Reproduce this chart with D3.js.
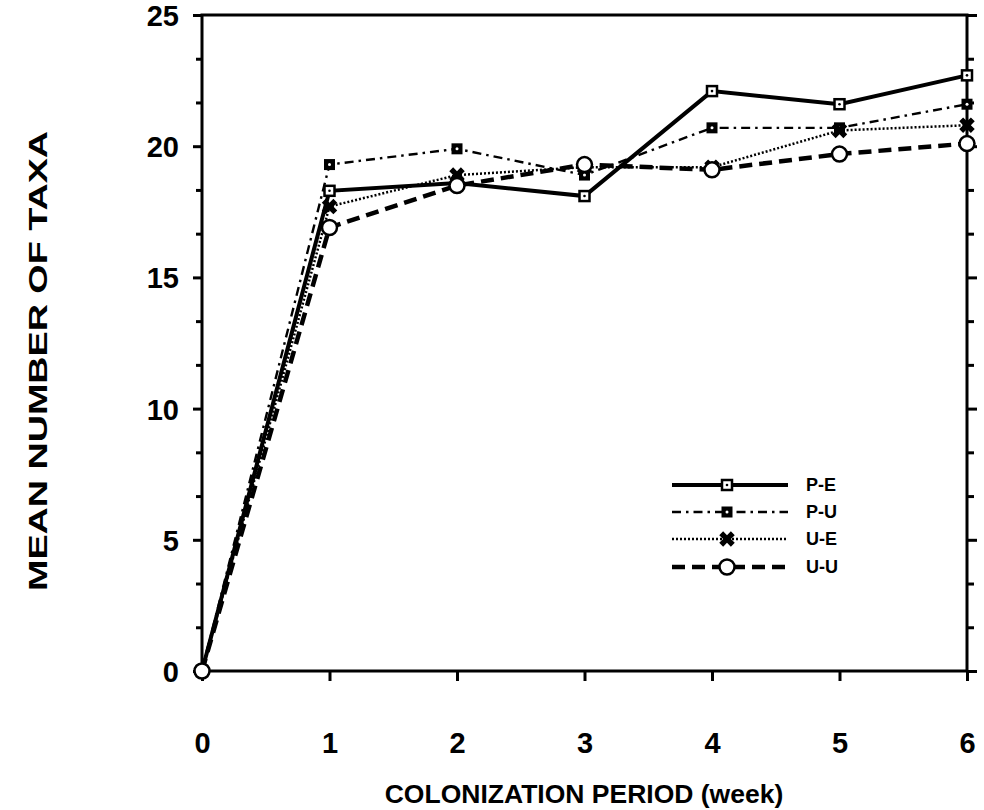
<!DOCTYPE html>
<html>
<head>
<meta charset="utf-8">
<script src="https://cdn.jsdelivr.net/npm/d3@7"></script>
<style>
  body { margin: 0; background: #fff; }
  text { font-family: "Liberation Sans", Arial, sans-serif; font-weight: bold; fill: #000; }
</style>
</head>
<body>
<svg id="chart" width="984" height="810"></svg>
<script>
// values
const weeks = [0, 1, 2, 3, 4, 5, 6];
const pE = [0, 18.3, 18.6, 18.1, 22.1, 21.6, 22.7];
const pU = [0, 19.3, 19.9, 18.9, 20.7, 20.7, 21.6];
const uE = [0, 17.7, 18.9, 19.2, 19.2, 20.6, 20.8];
const uU = [0, 16.9, 18.5, 19.3, 19.1, 19.7, 20.1];
const seriesNames = ["P-E", "P-U", "U-E", "U-U"];
const yTicks = [0, 5, 10, 15, 20, 25];

const svg = d3.select("#chart");
const plotL = 202, plotR = 967, plotT = 15, plotB = 671;

const x = d3.scaleLinear().domain([0, 6]).range([plotL, plotR]);
const y = d3.scaleLinear().domain([0, 25]).range([plotB, plotT]);

const minor = d3.range(0, 25.01, 5 / 3).filter(v => Math.abs(v / 5 - Math.round(v / 5)) > 0.01);

// axes
function styleAxis(g) {
    g.select(".domain").remove();
    g.selectAll(".tick line").attr("stroke", "#000").attr("stroke-width", 3);
}

svg.append("g").attr("transform", `translate(${plotL},0)`)
    .call(d3.axisLeft(y).tickValues(yTicks).tickSize(9).tickPadding(14).tickFormat(d3.format("d")))
    .call(styleAxis)
    .selectAll("text").style("font-size", "29px").attr("dy", "0.36em");
svg.append("g").attr("transform", `translate(${plotL},0)`)
    .call(d3.axisLeft(y).tickValues(minor).tickSize(6).tickFormat(""))
    .call(styleAxis);
svg.append("g").attr("transform", `translate(${plotR},0)`)
    .call(d3.axisRight(y).tickValues(yTicks).tickSize(10).tickFormat(""))
    .call(styleAxis);
svg.append("g").attr("transform", `translate(${plotR},0)`)
    .call(d3.axisRight(y).tickValues(minor).tickSize(7).tickFormat(""))
    .call(styleAxis);
svg.append("g").attr("transform", `translate(0,${plotB})`)
    .call(d3.axisBottom(x).tickValues(weeks).tickSize(10).tickPadding(51).tickFormat(d3.format("d")))
    .call(styleAxis)
    .selectAll("text").style("font-size", "29px");

// frame
svg.append("rect")
    .attr("x", plotL).attr("y", plotT)
    .attr("width", plotR - plotL).attr("height", plotB - plotT)
    .attr("fill", "none").attr("stroke", "#000").attr("stroke-width", 3);

// axis titles
svg.append("text")
    .attr("x", 584).attr("y", 803)
    .attr("text-anchor", "middle")
    .style("font-size", "26.5px")
    .text("COLONIZATION PERIOD (week)");
svg.append("text")
    .attr("transform", "translate(47,361) rotate(-90)")
    .attr("text-anchor", "middle")
    .attr("textLength", 460)
    .attr("lengthAdjust", "spacingAndGlyphs")
    .style("font-size", "26px")
    .text("MEAN NUMBER OF TAXA");

// series
const series = [
    { name: seriesNames[0], values: pE, width: 4, dash: null, marker: "sqDot" },
    { name: seriesNames[1], values: pU, width: 2.4, dash: "9,5,2.5,5", marker: "sqFill" },
    { name: seriesNames[2], values: uE, width: 2.5, dash: "2,2", marker: "star" },
    { name: seriesNames[3], values: uU, width: 4.5, dash: "13,7", marker: "circle" }
];

const line = d3.line().x((d, i) => x(weeks[i])).y(d => y(d));

function drawMarker(g, kind) {
    if (kind === "sqDot") {
        g.append("rect").attr("x", -5).attr("y", -5).attr("width", 10).attr("height", 10)
            .attr("fill", "#fff").attr("stroke", "#000").attr("stroke-width", 2.5);
        g.append("circle").attr("r", 1.3).attr("fill", "#000");
    } else if (kind === "sqFill") {
        g.append("rect").attr("x", -5.5).attr("y", -5.5).attr("width", 11).attr("height", 11)
            .attr("fill", "#000");
        g.append("circle").attr("r", 1.5).attr("fill", "#fff");
    } else if (kind === "star") {
        g.append("path").attr("d", d3.symbol(d3.symbolCross, 150)())
            .attr("transform", "rotate(45)").attr("fill", "#000");
    } else {
        g.append("circle").attr("r", 7.5).attr("fill", "#fff")
            .attr("stroke", "#000").attr("stroke-width", 2.5);
    }
}

series.forEach(function(s) {
    svg.append("path")
        .datum(s.values)
        .attr("d", line)
        .attr("fill", "none")
        .attr("stroke", "#000")
        .attr("stroke-width", s.width)
        .attr("stroke-dasharray", s.dash);
});

series.forEach(function(s) {
    svg.selectAll(null)
        .data(s.values)
        .enter()
        .append("g")
        .attr("transform", (d, i) => `translate(${x(weeks[i])},${y(d)})`)
        .each(function() { drawMarker(d3.select(this), s.marker); });
});

// legend
const legY = [485, 512, 539, 567];
series.forEach(function(s, i) {
    const g = svg.append("g").attr("transform", `translate(0,${legY[i]})`);
    g.append("line").attr("x1", 672).attr("x2", 788).attr("y1", 0).attr("y2", 0)
        .attr("stroke", "#000").attr("stroke-width", s.width)
        .attr("stroke-dasharray", s.dash);
    const m = g.append("g").attr("transform", "translate(727,0)");
    drawMarker(m, s.marker);
    g.append("text").attr("x", 806).attr("y", 0).attr("dy", "0.36em")
        .style("font-size", "18px").text(s.name);
});
</script>
</body>
</html>
